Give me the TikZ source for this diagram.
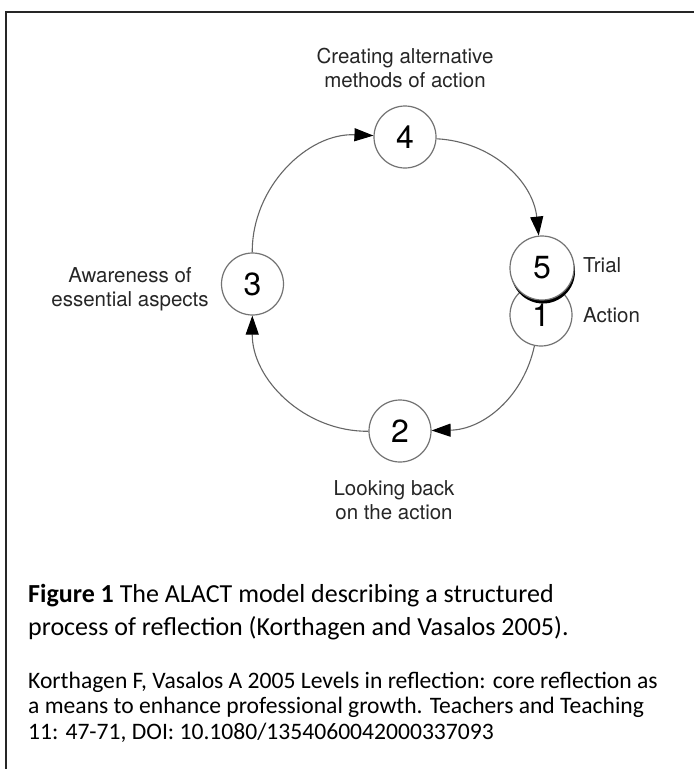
\documentclass[tikz,border=0pt]{standalone}
\usepackage{fontspec}
\setmainfont{Carlito}
\newfontfamily\helv{TeX Gyre Heros}
\usetikzlibrary{arrows.meta}
\begin{document}
\begin{tikzpicture}[x=1pt,y=1pt,
  numnode/.style={circle, draw=black!55, line width=1.2pt, fill=white, minimum size=62pt, inner sep=0pt, font=\helv\fontsize{32}{32}\selectfont},
  lbl/.style={font=\helv\fontsize{20.5}{24.5}\selectfont, text=black!85, align=center, inner sep=0pt},
  conn/.style={draw=black!60, line width=1.1pt, -{Triangle[length=19pt,width=13pt,color=black]}},
  captxt/.style={anchor=base west, inner sep=0pt, font=\fontsize{26}{31}\selectfont},
  reftxt/.style={anchor=base west, inner sep=0pt, font=\fontsize{23.6}{26}\selectfont}]
\useasboundingbox (0,0) rectangle (694,-769);
\fill[white] (0,0) rectangle (694,-769);
\draw[line width=2pt, black!85] (6,-769) -- (6,-12) -- (694,-12);
% nodes
\node[numnode] (n4) at (405,-137) {4};
\node[numnode] (n3) at (252.5,-284) {3};
\node[numnode] (n2) at (400,-431) {2};
\node[numnode] (n1) at (541,-315) {1};
\node[circle, fill=black, minimum size=64pt, inner sep=0pt] (n5s) at (543,-271.5) {};
\node[numnode, minimum size=64pt] (n5) at (542,-268) {5};
% labels
\node[lbl] (l4) at (405,-68) {Creating alternative\\methods of action};
\node[lbl] (l3) at (130,-289) {Awareness of\\essential aspects};
\node[lbl] (l2) at (394,-500) {Looking back\\on the action};
\node[lbl, anchor=west] (l5) at (583,-265) {Trial};
\node[lbl, anchor=west] (l1) at (583,-315) {Action};
% connectors
\draw[conn] (n3) to[bend left=46.5] (n4);
\draw[conn] (n4) to[bend left=40.5] (n5);
\draw[conn] (n1) to[bend left=38.5] (n2);
\draw[conn] (n2) to[bend left=45.4] (n3);
% caption
\node[captxt] (c1) at (28,-602) {\textbf{Figure 1} The ALACT model describing a structured};
\node[captxt] (c2) at (28,-635) {process of reflection (Korthagen and Vasalos 2005).};
\node[reftxt] (r1) at (28,-688) {Korthagen F, Vasalos A 2005 Levels in reflection: core reflection as};
\node[reftxt] (r2) at (28,-713) {a means to enhance professional growth. Teachers and Teaching};
\node[reftxt] (r3) at (28,-739) {11: 47-71, DOI: 10.1080/1354060042000337093};
\end{tikzpicture}
\end{document}
